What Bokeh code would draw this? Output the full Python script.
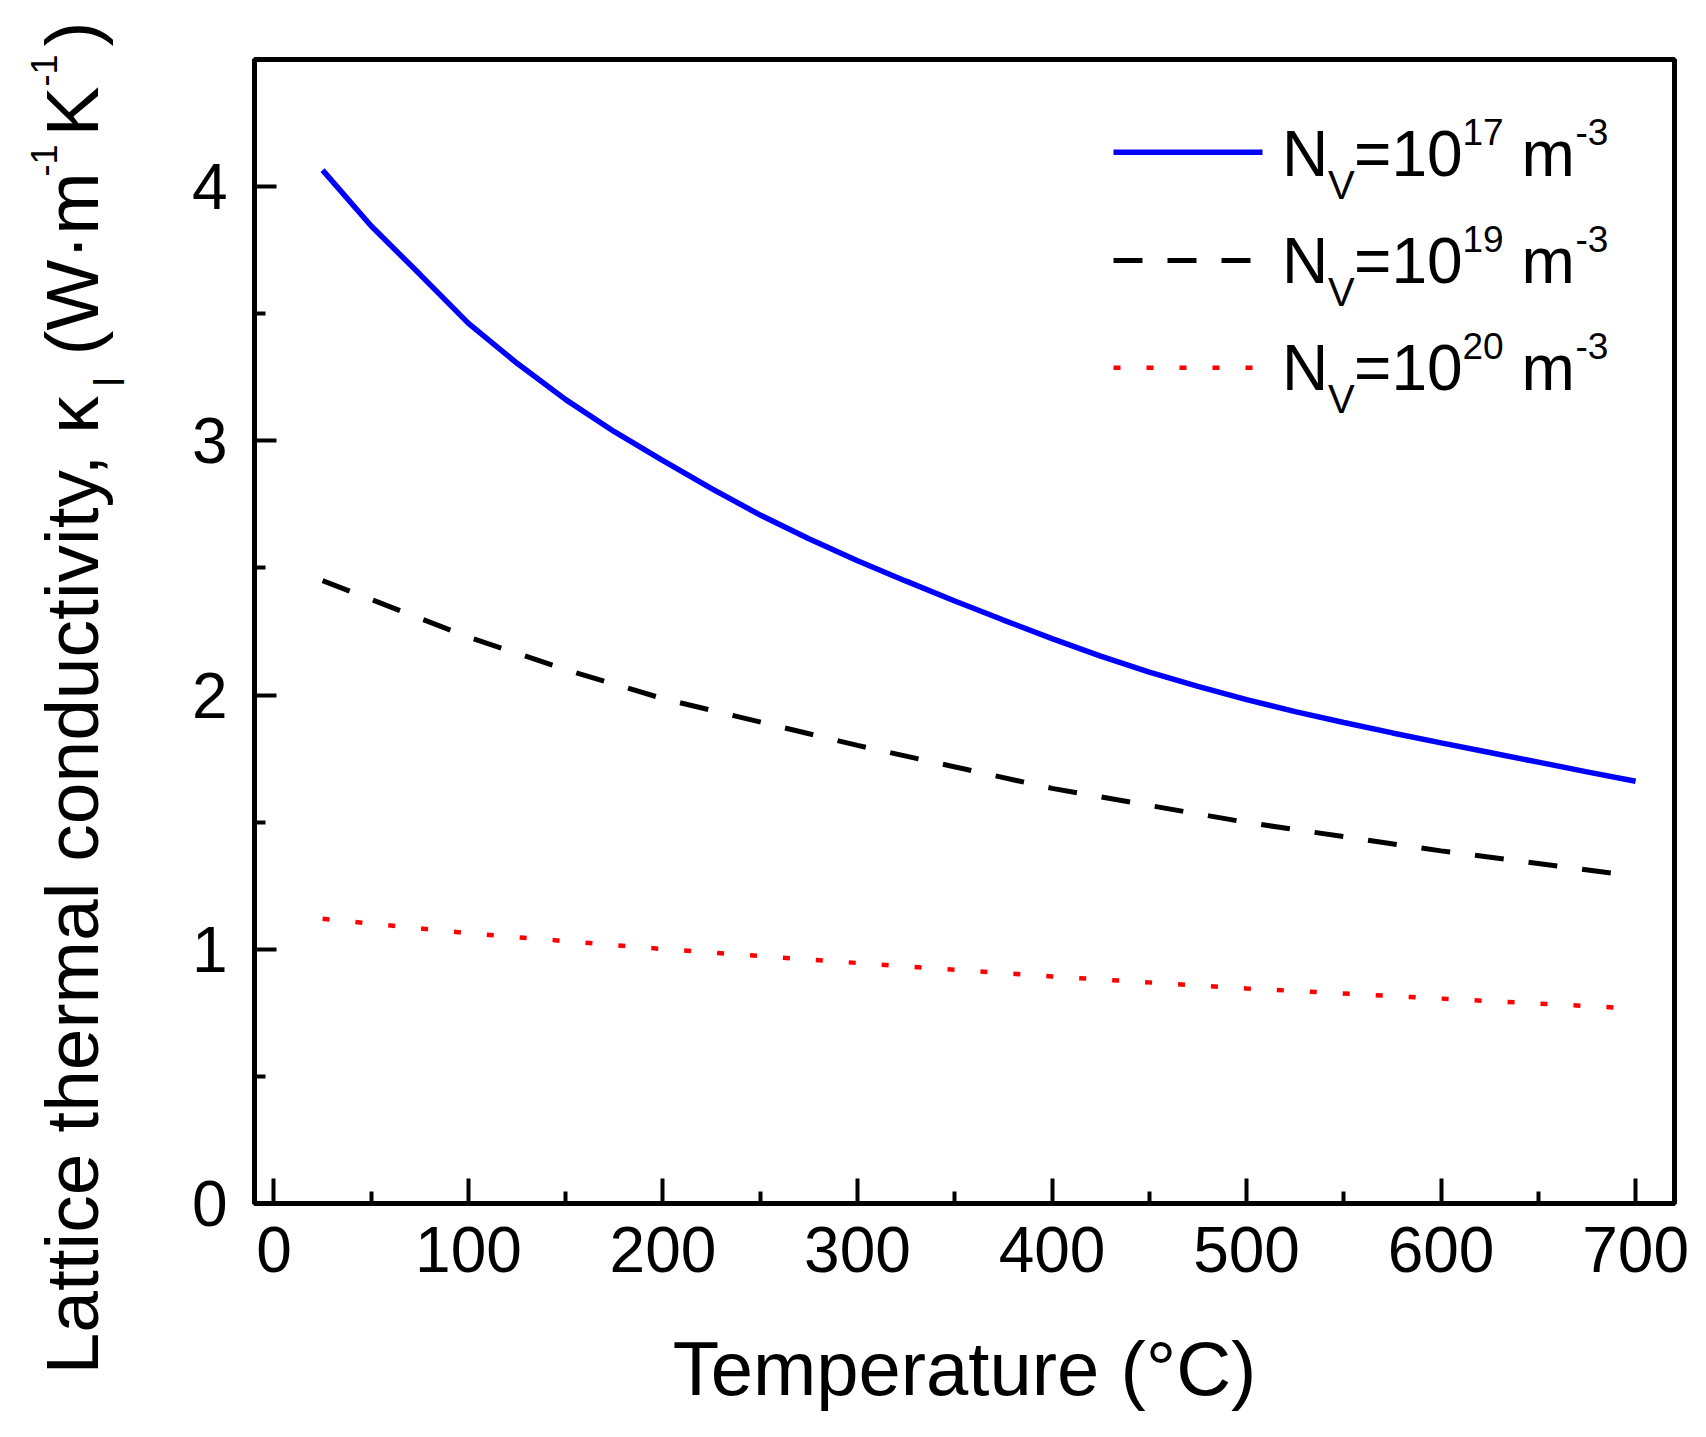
import math
from bokeh.plotting import figure
from bokeh.layouts import row
from bokeh.models import FixedTicker, Label, Range1d
from bokeh.core.properties import value
from bokeh.embed import file_html
from bokeh.resources import INLINE

# ---------------- data ----------------
temp_1e17 = [25, 50, 75, 100, 125, 150, 175, 200, 225, 250, 275, 300, 325, 350, 375, 400,
             425, 450, 475, 500, 525, 550, 575, 600, 625, 650, 675, 700]
kappa_1e17 = [4.065, 3.845, 3.655, 3.462, 3.305, 3.162, 3.036, 2.922, 2.812, 2.708, 2.615, 2.528,
              2.448, 2.370, 2.295, 2.222, 2.153, 2.090, 2.034, 1.982, 1.935, 1.892, 1.851, 1.812,
              1.774, 1.736, 1.698, 1.661]

temp_1e19 = [25, 100, 150, 200, 300, 400, 500, 600, 700]
kappa_1e19 = [2.45, 2.228, 2.10, 1.986, 1.802, 1.633, 1.499, 1.387, 1.287]

temp_1e20 = [25, 100, 200, 300, 400, 500, 600, 700]
kappa_1e20 = [1.12, 1.063, 1.001, 0.946, 0.893, 0.846, 0.806, 0.767]

series_exponents = ["17", "19", "20"]

x_major_ticks = [0, 100, 200, 300, 400, 500, 600, 700]
x_minor_ticks = [50, 150, 250, 350, 450, 550, 650]
y_major_ticks = [0, 1, 2, 3, 4]
y_minor_ticks = [0.5, 1.5, 2.5, 3.5]

XMIN, XMAX = -10, 720
YMIN, YMAX = 0, 4.5
FONT = "Liberation Sans"

# ---------------- layout ----------------
H = 1421
WL = 160                      # narrow strip holding the rotated y title
W = 1690 - WL
ML, MR, MT, MB = 254 - WL, 16, 59, 218
FRAME_LEFT = 254              # page px
FRAME_TOP = MT
FRAME_W = W - ML - MR
FRAME_H = H - MT - MB
PXX = FRAME_W / (XMAX - XMIN)
PXY = FRAME_H / (YMAX - YMIN)
BASE_FIX = 0.33   # empirical baseline correction (fraction of font size)


def dx(px):
    return XMIN + (px - FRAME_LEFT) / PXX


def dy(py):
    return YMAX - (py - FRAME_TOP) / PXY


p = figure(width=W, height=H, x_range=Range1d(XMIN, XMAX), y_range=Range1d(YMIN, YMAX),
           output_backend="svg", toolbar_location=None,
           min_border_left=ML, min_border_right=MR, min_border_top=MT, min_border_bottom=MB)
p.frame_align = False
p.grid.visible = False
p.background_fill_color = "white"
p.border_fill_color = "white"
p.outline_line_color = "black"
p.outline_line_width = 5
p.outline_line_alpha = 1.0

p.xaxis.ticker = FixedTicker(ticks=x_major_ticks, minor_ticks=x_minor_ticks)
p.yaxis.ticker = FixedTicker(ticks=y_major_ticks, minor_ticks=y_minor_ticks)
for ax in (p.xaxis[0], p.yaxis[0]):
    ax.axis_line_width = 5
    ax.axis_line_color = "black"
    ax.major_tick_line_width = 4
    ax.minor_tick_line_width = 4
    ax.major_tick_line_color = "black"
    ax.minor_tick_line_color = "black"
    ax.major_tick_out = 0
    ax.minor_tick_out = 0
    ax.major_label_text_font = FONT
    ax.major_label_text_font_size = "64px"
    ax.major_label_text_color = "black"
p.xaxis.major_tick_in = 25
p.xaxis.minor_tick_in = 12
p.yaxis.major_tick_in = 22
p.yaxis.minor_tick_in = 11
p.xaxis.major_label_standoff = 23
p.yaxis.major_label_standoff = 27

p.xaxis.axis_label = "Temperature (°C)"
p.xaxis.axis_label_text_font = FONT
p.xaxis.axis_label_text_font_size = "76px"
p.xaxis.axis_label_text_font_style = "normal"
p.xaxis.axis_label_text_color = "black"
p.xaxis.axis_label_standoff = 51

# ---------------- series ----------------
styles = [
    dict(line_color="#0000FF", line_width=5.5),
    dict(line_color="black", line_width=5, line_dash="29 25"),
    dict(line_color="#FF0000", line_width=4.5, line_dash="7 26"),
]
p.line(temp_1e17, kappa_1e17, **styles[0])
p.line(temp_1e19, kappa_1e19, **styles[1])
p.line(temp_1e20, kappa_1e20, **styles[2])


# ---------------- legend ----------------
def put(text, px, py, size):
    """px, py: page position of the start of the text on its baseline."""
    py = py - BASE_FIX * size
    p.add_layout(Label(x=dx(px), y=dy(py), text=text, text_font=FONT,
                       text_font_size=f"{size}px", text_color="black",
                       text_align="left", text_baseline="alphabetic"))


row_line_y = [151.7, 260.0, 367.3]
row_base_y = [174.3, 281.7, 388.3]
for st, ly, by, ex in zip(styles, row_line_y, row_base_y, series_exponents):
    p.line([dx(1113), dx(1262)], [dy(ly), dy(ly)], **st)
    put("N", 1281.5, by, 64)
    put("V", 1327.5, by + 23, 40)
    put("=10", 1353.5, by, 64)
    put(ex, 1462, by - 31, 37)
    put("m", 1521, by, 64)
    put("-3", 1575, by - 31, 37)

# ---------------- rotated y-axis title in a narrow strip ----------------
yt = figure(width=WL, height=H, x_range=Range1d(0, WL), y_range=Range1d(0, H),
            output_backend="svg", toolbar_location=None,
            x_axis_type=None, y_axis_type=None,
            min_border=0, min_border_left=0, min_border_right=0,
            min_border_top=0, min_border_bottom=0)
yt.frame_align = False
yt.grid.visible = False
yt.outline_line_color = None
yt.background_fill_color = "white"
yt.border_fill_color = "white"


def vput(text, px, py, size):
    px = px - BASE_FIX * size
    yt.text(x=[px], y=[H - py], text=[text], angle=math.pi / 2,
            text_font=value(FONT), text_font_size=value(f"{size}px"),
            text_color="black", text_align="left", text_baseline="alphabetic")


vput("Lattice thermal conductivity, κ", 96, 1374, 75)
vput("l", 123, 386, 42)
vput("(W·m", 96, 355, 75)
vput("-1", 55, 176, 36)
vput("K", 96, 136, 75)
vput("-1", 55, 86, 36)
vput(")", 96, 46, 75)

layout = row(yt, p, spacing=0)
open("out.html", "w").write(file_html(layout, INLINE))
